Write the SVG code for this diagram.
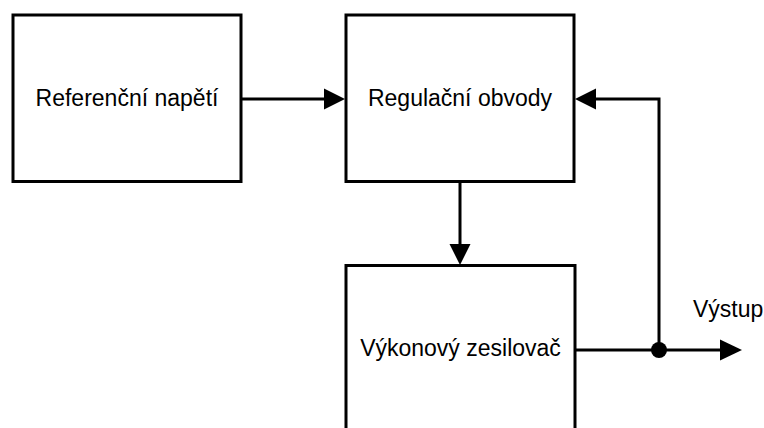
<svg xmlns="http://www.w3.org/2000/svg" width="764" height="428" viewBox="0 0 764 428">
  <style>
    .box { fill: #ffffff; stroke: #000000; stroke-width: 3; }
    .wire { fill: none; stroke: #000000; stroke-width: 3; }
    .head { fill: #000000; stroke: none; }
    .lbl { font-family: "Liberation Sans", Arial, sans-serif; font-size: 23px; fill: #000000; }
  </style>
  <rect width="764" height="428" fill="#ffffff"/>

  <g id="connectors">
    <!-- reference voltage -> control circuits -->
    <line class="wire" x1="241" y1="99" x2="326" y2="99"/>
    <polygon class="head" points="345,99 324,88.5 324,109.5"/>
    <!-- control circuits -> power amplifier -->
    <line class="wire" x1="460" y1="181.5" x2="460" y2="246"/>
    <polygon class="head" points="460,265 449.5,244 470.5,244"/>
    <!-- power amplifier -> output -->
    <line class="wire" x1="575" y1="350" x2="722" y2="350"/>
    <polygon class="head" points="742,350 720,339.5 720,360.5"/>
    <!-- feedback from output node back to control circuits -->
    <polyline class="wire" points="659,350 659,99 594,99"/>
    <polygon class="head" points="575,99 596,88.5 596,109.5"/>
    <circle cx="659" cy="350" r="8" fill="#000000"/>
  </g>

  <g id="ref-voltage">
    <rect class="box" x="13" y="15" width="228" height="166.5"/>
    <text class="lbl" x="127" y="106" text-anchor="middle">Referenční napětí</text>
  </g>

  <g id="control-circuits">
    <rect class="box" x="346" y="15" width="228" height="166.5"/>
    <text class="lbl" x="460" y="106" text-anchor="middle">Regulační obvody</text>
  </g>

  <g id="power-amp">
    <rect class="box" x="346" y="265.5" width="229" height="200"/>
    <text class="lbl" x="460.5" y="356" text-anchor="middle">Výkonový zesilovač</text>
  </g>

  <g id="output-label">
    <text class="lbl" x="693" y="317">Výstup</text>
  </g>
</svg>
